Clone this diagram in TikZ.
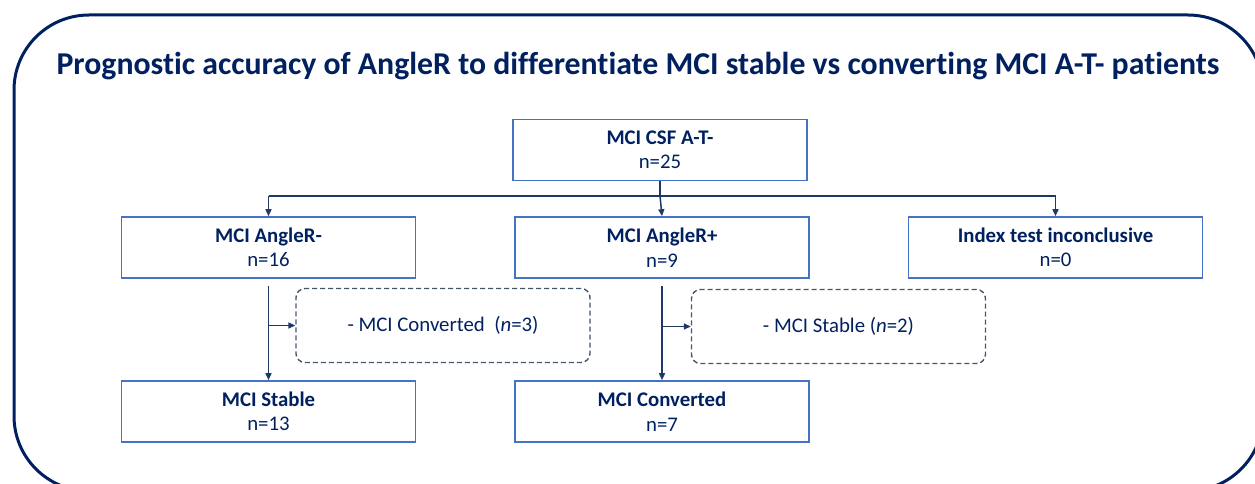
\documentclass[tikz,border=0pt]{standalone}
\usepackage{fontspec}
\setmainfont{Carlito}[Ligatures=NoCommon]
\usetikzlibrary{arrows.meta}
\definecolor{navy}{HTML}{002060}
\definecolor{boxblue}{HTML}{4472C4}
\definecolor{linkblue}{HTML}{1F3864}
\definecolor{dashgray}{HTML}{44546A}
\tikzset{
  every node/.style={text=navy, font=\fontsize{20.8}{24.5}\selectfont},
  stagebox/.style={draw=boxblue, line width=1.6pt, minimum width=294pt, minimum height=61pt, align=center, inner sep=0pt},
  exclbox/.style={draw=dashgray, line width=1.4pt, dash pattern=on 5pt off 3pt, rounded corners=9pt, minimum width=294pt, minimum height=74pt, align=center, inner sep=0pt},
  link/.style={draw=linkblue, line width=1.5pt},
  arr/.style={link, -{Triangle[length=7pt,width=6pt]}}
}
\begin{document}
\begin{tikzpicture}[x=1pt, y=-1pt]
\useasboundingbox (0,0) rectangle (1255,484);
% outer frame, running past the right and bottom page edges
\begin{scope}
\clip (0,0) rectangle (1255,484);
\draw[navy, line width=3pt, rounded corners=75pt] (14,15) rectangle (1263,491);
\end{scope}
% heading
\node (title) at (638,66) {\fontsize{31.8}{36}\selectfont\bfseries Prognostic accuracy of AngleR to differentiate MCI stable vs converting MCI A-T- patients};
% flow boxes
\node[stagebox] (root) at (660,150) {\textbf{MCI CSF A-T-}\\n=25};
\node[stagebox] (neg)  at (268.5,247.5) {\textbf{MCI AngleR-}\\n=16};
\node[stagebox] (pos)  at (662,247.5) {\textbf{MCI AngleR+}\\n=9};
\node[stagebox] (inc)  at (1055.5,247.5) {\textbf{Index test inconclusive}\\n=0};
\node[exclbox]  (exneg) at (443,325.5) {- MCI Converted\ \ (\textit{n}=3)};
\node[exclbox]  (expos) at (838.5,326.5) {- MCI Stable (\textit{n}=2)};
\node[stagebox] (stab) at (268.5,411.5) {\textbf{MCI Stable}\\n=13};
\node[stagebox] (conv) at (662,411.5) {\textbf{MCI Converted}\\n=7};
% split below the root box
\coordinate (split) at (root.south |- 0,196);
\draw[link] (root.south) -- (split);
\draw[link] (neg.north |- split) -- (inc.north |- split);
\draw[arr] (neg.north |- split) -- (neg.north);
\draw[arr] (split) -- (pos.north);
\draw[arr] (inc.north |- split) -- (inc.north);
% follow-up branches
\draw[arr] ([yshift=-7pt]neg.south) -- (stab.north);
\draw[arr] (neg.south |- exneg.west) -- (exneg.west);
\draw[arr] ([yshift=-7pt]pos.south) -- (conv.north);
\draw[arr] (pos.south |- expos.west) -- (expos.west);
\end{tikzpicture}
\end{document}
